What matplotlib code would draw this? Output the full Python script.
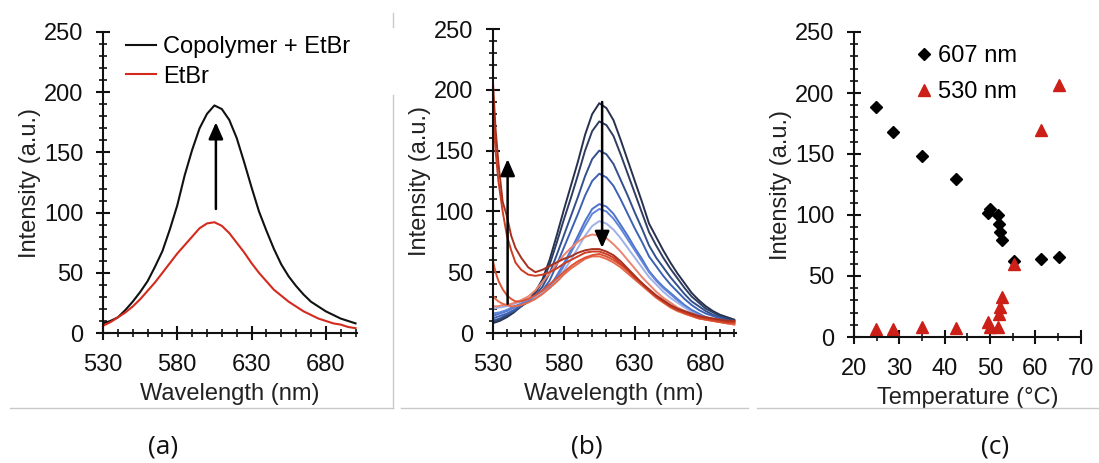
import numpy as np
import matplotlib
matplotlib.use('Agg')
import matplotlib.pyplot as plt
from matplotlib.ticker import MultipleLocator, FixedLocator
from matplotlib.lines import Line2D

plt.rcParams['font.family'] = ['Liberation Sans', 'DejaVu Sans']
plt.rcParams['font.size'] = 17

# ---- panel (a): spectra, 5 nm steps ----
wl = list(range(530, 701, 5))
copolymer_etbr = [8, 10, 13, 19, 26, 34, 43, 55, 68, 86, 106, 131, 152, 170, 182, 189, 186, 177,
                  162, 142, 121, 101, 85, 70, 57, 47, 39, 32, 26, 22, 18, 15, 12, 10, 8]
etbr = [6, 9, 13, 17, 22, 28, 35, 42, 50, 58, 66, 73, 80, 87, 91, 92, 89, 83,
        75, 67, 58, 50, 43, 36, 31, 26, 22, 18, 15, 12, 10, 8, 7, 5, 4]

# ---- panel (b): heating series ----
blue_curves = [
    [8, 10, 13, 17, 22, 26, 34, 44, 60, 80, 101, 121, 141, 163, 180, 189, 185, 175,
     159, 142, 125, 108, 90, 79, 68, 58, 49, 41, 33, 27, 22, 18, 15, 13, 11],
    [9, 11, 14, 18, 22, 26, 33, 42, 56, 74, 93, 111, 130, 150, 166, 174, 171, 162,
     147, 131, 115, 99, 83, 72, 62, 53, 45, 37, 30, 25, 20, 17, 14, 12, 10],
    [10, 12, 15, 18, 22, 26, 31, 38, 49, 64, 80, 96, 112, 129, 143, 150, 147, 139,
     126, 113, 99, 86, 72, 62, 54, 46, 39, 32, 26, 22, 18, 15, 13, 11, 10],
    [12, 14, 16, 19, 23, 26, 30, 35, 43, 56, 70, 84, 98, 113, 125, 131, 128, 121,
     110, 98, 86, 75, 63, 55, 47, 40, 34, 28, 23, 19, 16, 14, 12, 10, 9],
    [14, 16, 18, 21, 24, 27, 30, 33, 38, 47, 57, 68, 80, 92, 102, 106, 104, 98,
     89, 80, 70, 61, 51, 44, 38, 33, 28, 23, 19, 16, 13, 11, 10, 9, 8],
    [16, 17, 19, 22, 24, 27, 30, 33, 37, 45, 55, 66, 77, 88, 98, 102, 100, 94,
     86, 77, 68, 59, 50, 43, 37, 32, 27, 22, 18, 15, 13, 11, 10, 9, 8],
    [20, 21, 22, 24, 26, 28, 30, 33, 37, 43, 51, 60, 70, 80, 88, 92, 90, 85,
     78, 70, 62, 54, 46, 40, 34, 29, 25, 21, 17, 14, 12, 11, 10, 9, 8],
]
blue_colors = ['#27314d', '#2f3d63', '#33508c', '#3d62b3', '#4d73cc', '#5f84d8', '#9eb1e8']

wl_r = [530, 532, 534, 537, 540, 543, 546] + list(range(550, 701, 5))
red_curves = [
    [22, 22, 22, 23, 23, 24, 25, 27, 30, 35, 42, 49, 57, 64, 70, 75, 79, 81, 80,
     78, 73, 67, 60, 53, 46, 40, 34, 29, 25, 21, 18, 15, 13, 11, 10, 9, 8, 7],
    [31, 28, 26, 24, 23, 22, 22, 23, 25, 28, 32, 37, 42, 48, 53, 57, 61, 63, 63,
     61, 58, 54, 49, 44, 39, 34, 29, 25, 21, 18, 16, 14, 12, 11, 10, 9, 8, 7],
    [60, 50, 43, 36, 31, 28, 26, 26, 28, 31, 35, 40, 45, 50, 55, 59, 62, 64, 65,
     63, 60, 56, 51, 45, 40, 35, 30, 26, 22, 19, 16, 14, 12, 11, 10, 9, 8, 8],
    [190, 150, 125, 100, 80, 68, 58, 52, 48, 47, 48, 50, 53, 57, 60, 63, 66, 67, 67,
     65, 62, 57, 52, 46, 41, 35, 30, 26, 22, 19, 17, 15, 13, 12, 11, 10, 9, 9],
    [210, 168, 140, 108, 96, 80, 70, 62, 54, 50, 52, 55, 58, 61, 63, 66, 68, 69, 69,
     67, 64, 59, 53, 47, 41, 36, 31, 27, 23, 20, 18, 16, 14, 13, 12, 11, 10, 10],
]
red_colors = ['#ea8470', '#e66a4c', '#dc5233', '#cc3d22', '#a8301e']

# ---- panel (c): intensity vs temperature ----
temps = [24.9, 28.6, 35.0, 42.5, 49.6, 50.0, 51.7, 51.9, 52.3, 52.7, 55.3, 61.2, 65.3]
i607 = [188.5, 168.3, 148.4, 129.8, 101.4, 105.2, 100.3, 92.9, 86.1, 79.5, 62.0, 63.7, 65.6]
i530 = [6.6, 6.6, 8.2, 7.4, 12.0, 8.0, 8.0, 19.0, 24.6, 32.8, 60.0, 169.4, 206.8]

W, H = 1099, 463
fig = plt.figure(figsize=(W / 100, H / 100), dpi=100)


def px_axes(x0, x1, y0, y1):
    # pixel box -> figure fraction
    return fig.add_axes([x0 / W, 1 - y1 / H, (x1 - x0) / W, (y1 - y0) / H])


def style(ax, xlabel):
    for s in ['top', 'right']:
        ax.spines[s].set_visible(False)
    for s in ['left', 'bottom']:
        ax.spines[s].set_linewidth(1.5)
        ax.spines[s].set_color('#111111')
    ax.set_ylim(0, 250)
    ax.yaxis.set_major_locator(MultipleLocator(50))
    ax.yaxis.set_minor_locator(MultipleLocator(10))
    ax.tick_params(which='major', direction='inout', length=10, width=1.5, labelsize=17,
                   colors='#111111')
    ax.tick_params(which='minor', direction='inout', length=6, width=1.2, colors='#111111')
    ax.tick_params(axis='y', which='major', pad=9)
    ax.tick_params(axis='x', which='major', pad=10)
    ax.set_ylabel('Intensity (a.u.)', fontsize=17, color='#222222', labelpad=2)
    ax.set_xlabel(xlabel, fontsize=17, color='#222222', labelpad=5)
    ax.patch.set_alpha(0)


def wl_axis(ax):
    ax.set_xlim(530, 701)
    ax.xaxis.set_major_locator(FixedLocator([530, 580, 630, 680]))
    ax.xaxis.set_minor_locator(MultipleLocator(10))


arrow_kw = dict(arrowstyle='-|>,head_length=0.5,head_width=0.22', color='k', lw=1.8,
                shrinkA=0, shrinkB=0, mutation_scale=20)

# (a)
ax1 = px_axes(103, 357, 32, 333)
ax1.plot(wl, copolymer_etbr, color='#111111', lw=1.5, label='Copolymer + EtBr')
ax1.plot(wl, etbr, color='#d42a1e', lw=1.5, label='EtBr')
ax1.annotate('', xy=(606, 175), xytext=(606, 103), arrowprops=arrow_kw)
wl_axis(ax1)
style(ax1, 'Wavelength (nm)')
ax1.legend(loc='upper left', bbox_to_anchor=(0.027, 1.04), frameon=False, fontsize=17,
           handlelength=1.25, handletextpad=0.3, labelspacing=0.3, borderpad=0.2)

# (b)
ax2 = px_axes(492.7, 735.7, 29, 333)
for ys, c in zip(blue_curves, blue_colors):
    ax2.plot(wl, ys, color=c, lw=1.4)
for ys, c in zip(red_curves, red_colors):
    ax2.plot(wl_r, ys, color=c, lw=1.4)
ax2.annotate('', xy=(540.5, 143), xytext=(540.5, 24), arrowprops=arrow_kw)
ax2.annotate('', xy=(607, 70), xytext=(607, 190), arrowprops=arrow_kw)
wl_axis(ax2)
style(ax2, 'Wavelength (nm)')

# (c)
ax3 = px_axes(854, 1080.7, 32, 337)
ax3.plot(temps, i607, 'D', color='#000000', ms=6, label='607 nm')
ax3.plot(temps, i530, '^', color='#cc1f17', ms=8, label='530 nm')
ax3.set_xlim(20, 70)
ax3.xaxis.set_major_locator(MultipleLocator(10))
ax3.xaxis.set_minor_locator(MultipleLocator(5))
style(ax3, 'Temperature (°C)')
ax3.legend(loc='upper left', bbox_to_anchor=(0.205, 1.012), frameon=False, fontsize=17,
           handlelength=0.6, handletextpad=0.3, labelspacing=0.6, borderpad=0.2)

# faint layout rules and panel tags
gray = '#c9c9c9'
for (x0, x1) in [(10, 393), (401, 748), (757, 1099)]:
    fig.add_artist(Line2D([x0 / W, x1 / W], [1 - 408 / H] * 2, color=gray, lw=1))
fig.add_artist(Line2D([393 / W] * 2, [1 - 95 / H, 1 - 408 / H], color=gray, lw=1))
fig.add_artist(Line2D([393 / W] * 2, [1 - 13 / H, 1 - 27 / H], color=gray, lw=1))

for x, t in [(163, '(a)'), (587, '(b)'), (995, '(c)')]:
    fig.text(x / W, 1 - 447 / H, t, ha='center', va='center', fontsize=19,
             family=['Open Sans', 'DejaVu Sans'], color='#111111')

fig.savefig('out.png', dpi=100)
